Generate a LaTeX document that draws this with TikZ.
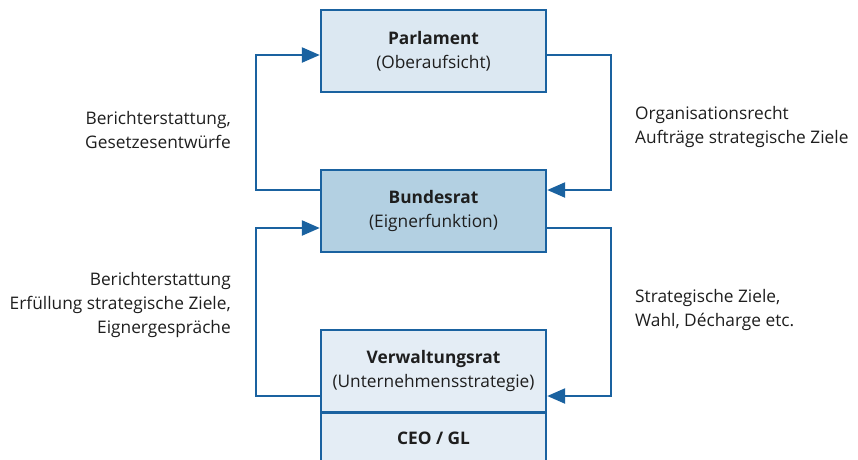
\documentclass[tikz,border=0pt]{standalone}
\usepackage{fontspec}
\setmainfont{Open Sans}
\usetikzlibrary{arrows.meta}
\definecolor{edge}{RGB}{26,98,160}
\definecolor{parlfill}{RGB}{220,232,242}
\definecolor{bundfill}{RGB}{179,208,226}
\definecolor{vrfill}{RGB}{228,237,245}
\definecolor{txt}{RGB}{30,30,30}
\begin{document}
\begin{tikzpicture}[x=1pt,y=-1pt,
  box/.style={draw=edge, line width=2.4pt, minimum width=225pt, minimum height=82pt,
    align=center, text=txt, inner sep=0pt, font=\fontsize{17.3}{24}\selectfont},
  lbl/.style={text=txt, inner sep=0pt, font=\fontsize{17.3}{24}\selectfont},
  conn/.style={draw=edge, line width=2.4pt, -{Triangle[length=18pt,width=15pt]}}]
\path[use as bounding box] (0,0) rectangle (858,459);
\begin{scope}
\clip (0,0) rectangle (858,459);
\node[box, fill=parlfill] (parl) at (433.5,51) {\textbf{Parlament}\\(Oberaufsicht)};
\node[box, fill=bundfill] (bund) at (433.5,211) {\textbf{Bundesrat}\\(Eignerfunktion)};
\node[box, fill=vrfill] (vr) at (433.5,371) {\textbf{Verwaltungsrat}\\(Unternehmensstrategie)};
\node[box, fill=vrfill, minimum height=56pt, anchor=north] (ceo) at (433.5,412) {};
\node[lbl, font=\fontsize{17.3}{24}\selectfont\bfseries] (ceotext) at (433.5,438) {CEO / GL};
\end{scope}
% bend points
\coordinate (b1) at (256,55);
\coordinate (b2) at (611,190);
\coordinate (b3) at (256,228);
\coordinate (b4) at (611,396);
% connectors
\draw[conn] ([yshift=21pt]bund.west) -| (b1) -- ([yshift=-4pt]parl.west);
\draw[conn] ([yshift=-4pt]parl.east) -| (b2) -- ([yshift=21pt]bund.east);
\draw[conn] ([yshift=-25pt]vr.west) -| (b3) -- ([yshift=-17pt]bund.west);
\draw[conn] ([yshift=-17pt]bund.east) -| (b4) -- ([yshift=-25pt]vr.east);
% labels
\node[lbl, anchor=east, align=right] (l1) at (231,130) {Berichterstattung,\\Gesetzesentwürfe};
\node[lbl, anchor=west, align=left] (r1) at (635,127) {Organisationsrecht\\Aufträge strategische Ziele};
\node[lbl, anchor=east, align=right] (l2) at (231,305) {Berichterstattung\\Erfüllung strategische Ziele,\\Eignergespräche};
\node[lbl, anchor=west, align=left] (r2) at (635,310) {Strategische Ziele,\\Wahl, Décharge etc.};
\end{tikzpicture}
\end{document}
